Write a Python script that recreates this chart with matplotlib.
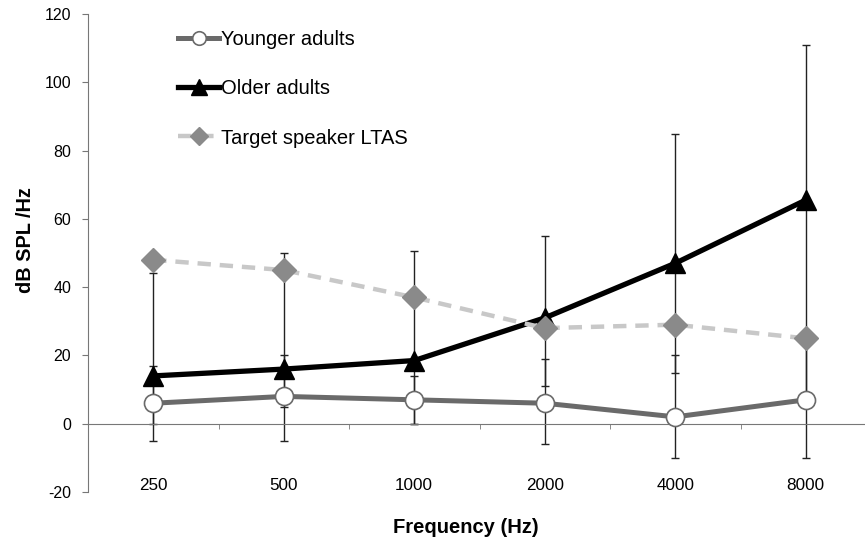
import matplotlib.pyplot as plt
import numpy as np

plt.rcParams['font.family'] = ['Liberation Sans', 'DejaVu Sans']
plt.rcParams['axes.unicode_minus'] = False

freqs = ["250", "500", "1000", "2000", "4000", "8000"]
younger = [6, 8, 7, 6, 2, 7]
older = [14, 16, 18.5, 31, 47, 65.5]
target = [48, 45, 37, 28, 29, 25]

# error bar ends
younger_low = [-5, -5, 0, -6, -10, -10]
younger_high = [17, 20, 14, 19, 20, 24]
older_low = [0, 5, 0, 11, 15, 7]
older_high = [44, 50, 50.5, 55, 85, 111]

x = np.arange(len(freqs))

fig = plt.figure(figsize=(8.65, 5.38), dpi=100)
ax = fig.add_axes([88 / 865, 46 / 538, 783 / 865, 478 / 538])

# error bars
y_err = [np.array(younger) - np.array(younger_low), np.array(younger_high) - np.array(younger)]
o_err = [np.array(older) - np.array(older_low), np.array(older_high) - np.array(older)]
ax.errorbar(x, younger, yerr=y_err, fmt='none', ecolor='#222222', elinewidth=1, capsize=3, capthick=1, zorder=2)
ax.errorbar(x, older, yerr=o_err, fmt='none', ecolor='#222222', elinewidth=1, capsize=3, capthick=1, zorder=2)

# lines
ax.plot(x, younger, color='#6a6a6a', lw=3.6, marker='o', ms=13, mfc='white', mec='#6a6a6a', mew=1.2,
        label='Younger adults', zorder=3)
ax.plot(x, older, color='black', lw=3.8, marker='^', ms=15, mfc='black', mec='black',
        label='Older adults', zorder=4)
ax.plot(x, target, color='#c8c8c8', lw=3.2, ls=(0, (3, 2)), marker='D', ms=12, mfc='#8a8a8a', mec='#8a8a8a',
        label='Target speaker LTAS', zorder=5)

ax.set_xlim(-0.5, 5.5)
ax.set_ylim(-20, 120)
ax.set_yticks(range(-20, 121, 20))

for s in ['top', 'right']:
    ax.spines[s].set_visible(False)
ax.spines['bottom'].set_position(('data', 0))
ax.spines['bottom'].set_color('#777777')
ax.spines['left'].set_color('#777777')

ax.set_xticks(x)
ax.set_xticklabels(freqs)
ax.set_xticks(np.arange(0.5, 5.5, 1), minor=True)
ax.tick_params(axis='x', which='major', length=0, pad=39, labelsize=12.3)
ax.tick_params(axis='x', which='minor', length=3.5, direction='out', color='#777777')
ax.tick_params(axis='y', length=4, color='#777777', pad=8, labelsize=11.5)

ax.set_ylabel('dB SPL /Hz', fontsize=14.3, fontweight='bold')
ax.yaxis.set_label_coords(-0.068, 0.527)
ax.set_xlabel('Frequency (Hz)', fontsize=14.5, fontweight='bold')
ax.xaxis.set_label_coords(0.483, -0.054)

ax.legend(loc='upper left', bbox_to_anchor=(0.095, 1.0), frameon=False, fontsize=14.5, markerscale=0.75,
          handlelength=2.0, handletextpad=0.12, labelspacing=1.5, borderaxespad=0.4)

fig.savefig("out.png", dpi=100)
